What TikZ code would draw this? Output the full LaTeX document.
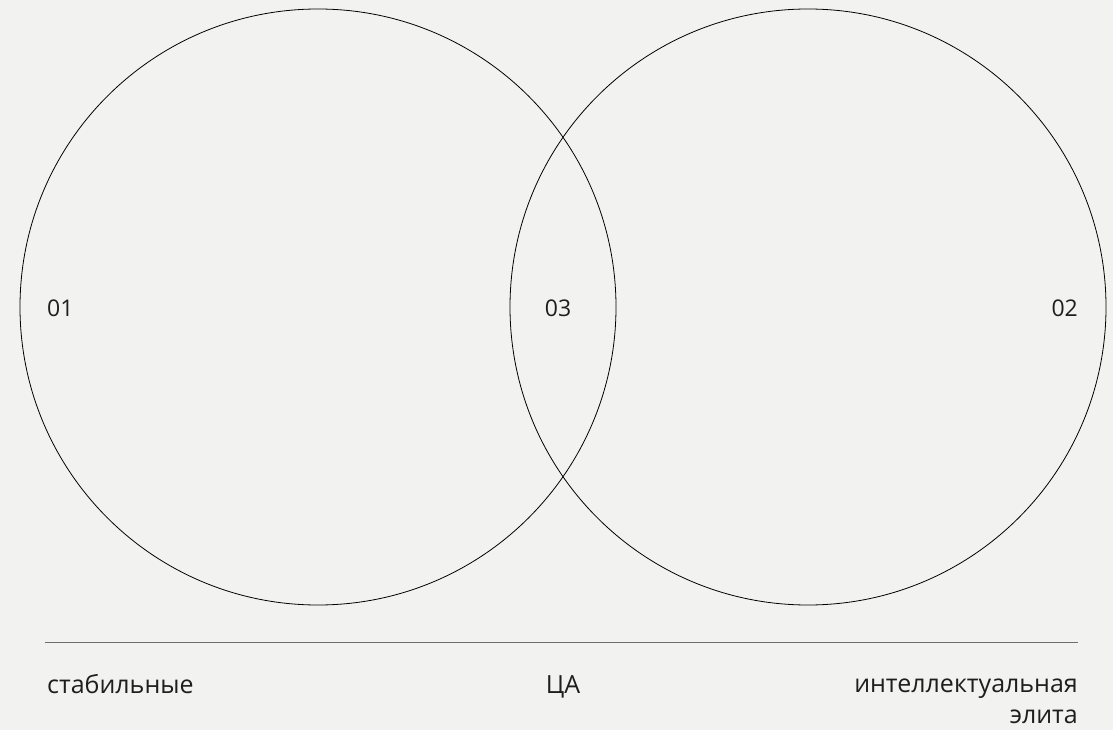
\documentclass[tikz,border=0pt]{standalone}
\usepackage{fontspec}
\setmainfont{Open Sans}
\usepackage{xcolor}
\usetikzlibrary{positioning}
\definecolor{paper}{HTML}{F2F2F0}
\definecolor{ink}{HTML}{1E1E1E}
\definecolor{rulegrey}{HTML}{6E6E6E}

\begin{document}
\begin{tikzpicture}[
  x=1pt,
  y=-1pt,
  ring/.style={circle, draw=black, line width=0.8pt, minimum size=596pt, inner sep=0pt},
  num/.style={font=\fontsize{23}{26}\selectfont, text=ink, inner sep=0pt},
  caption/.style={font=\fontsize{25}{31}\selectfont, text=ink, inner sep=0pt}
]
  \fill[paper] (0,0) rectangle (1113,730);
  \useasboundingbox (0,0) rectangle (1113,730);

  \node[ring] (stable) at (318,307) {};
  \node[ring] (elite) at (808,307) {};

  \node[num, anchor=west] (n01) at (47,308) {01};
  \node[num] (n03) at (558,308) {03};
  \node[num, anchor=east] (n02) at (1078,308) {02};

  \coordinate (rulel) at (45,642);
  \coordinate (ruler) at (1078,642);
  \draw[rulegrey, line width=1pt] (rulel) -- (ruler);

  \node[caption, anchor=base west] (lstable) at (47,693) {стабильные};
  \node[caption, anchor=base] (lta) at (563,693) {ЦА};
  \node[caption, anchor=base east, align=right] (lelite) at (1078,723) {интеллектуальная\\элита};
\end{tikzpicture}
\end{document}
